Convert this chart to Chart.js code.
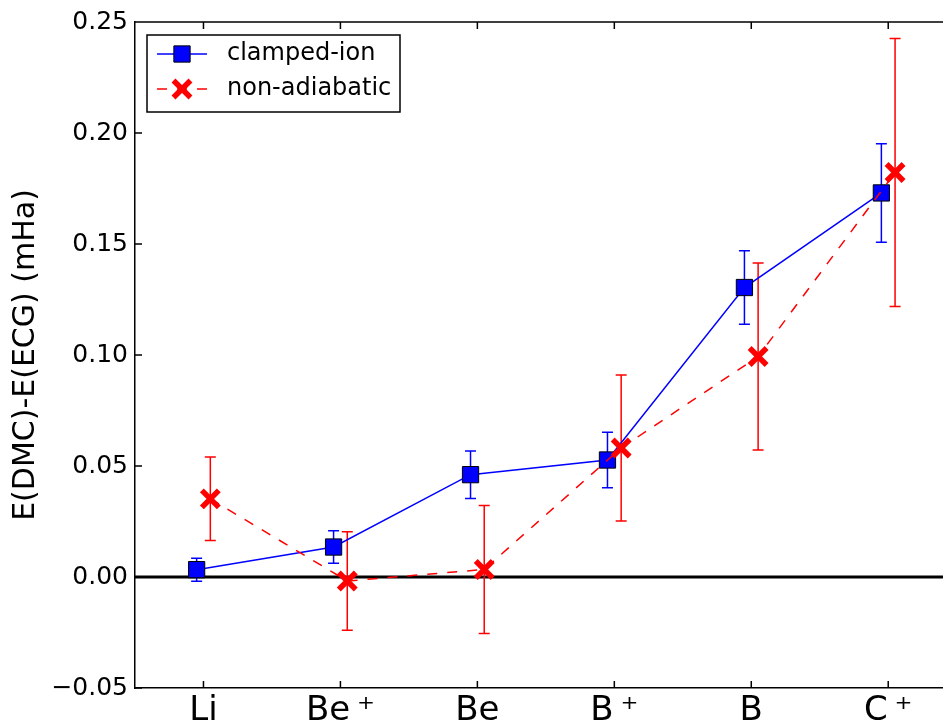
<!DOCTYPE html>
<html>
<head>
<meta charset="utf-8">
<title>DMC vs ECG energies</title>
<script src="https://cdn.jsdelivr.net/npm/chart.js@4.4.0/dist/chart.umd.min.js"></script>
<style>
  html, body { margin: 0; padding: 0; background: #fff; overflow: hidden; }
  canvas { display: block; }
</style>
</head>
<body>
<canvas id="energyChart" width="943" height="723"></canvas>
<script>
// energy differences in mHa, with one-sigma error bars
const systems = ['Li', 'Be\u2009\u207A', 'Be', 'B\u2009\u207A', 'B', 'C\u2009\u207A'];
const clampedIon = [0.0033, 0.0135, 0.0461, 0.0527, 0.1304, 0.1730];
const clampedIonErr = [0.0052, 0.0073, 0.0107, 0.0125, 0.0166, 0.0222];
const nonAdiabatic = [0.0352, -0.0018, 0.0034, 0.0581, 0.0993, 0.1822];
const nonAdiabaticErr = [0.0188, 0.0222, 0.0288, 0.0329, 0.0421, 0.0604];
const yTicks = [-0.05, 0.00, 0.05, 0.10, 0.15, 0.20, 0.25];

const FONT = 'DejaVu Sans';
const SHIFT = 0.05; // small sideways nudge so the two series don't overlap

function fmt(v) {
  const s = Math.abs(v).toFixed(2);
  return v < -1e-9 ? '\u2212' + s : s;
}

// zero reference line and error bars, under the series
const underlay = {
  id: 'underlay',
  beforeDatasetsDraw(chart) {
    const { ctx, chartArea, scales: { y } } = chart;
    ctx.save();
    const y0 = y.getPixelForValue(0);
    ctx.strokeStyle = '#000';
    ctx.lineWidth = 3;
    ctx.beginPath();
    ctx.moveTo(chartArea.left, y0);
    ctx.lineTo(chartArea.right, y0);
    ctx.stroke();

    chart.data.datasets.forEach((ds, di) => {
      const meta = chart.getDatasetMeta(di);
      ctx.strokeStyle = ds.borderColor;
      ctx.lineWidth = 1.5;
      ds.errors.forEach((e, i) => {
        const pt = meta.data[i];
        const v = ds.data[i].y;
        const top = y.getPixelForValue(v + e);
        const bot = y.getPixelForValue(v - e);
        ctx.beginPath();
        ctx.moveTo(pt.x, top);
        ctx.lineTo(pt.x, bot);
        ctx.moveTo(pt.x - 5.5, top);
        ctx.lineTo(pt.x + 5.5, top);
        ctx.moveTo(pt.x - 5.5, bot);
        ctx.lineTo(pt.x + 5.5, bot);
        ctx.stroke();
      });
    });
    ctx.restore();
  }
};

// top spine, inward tick marks and the boxed legend
const frame = {
  id: 'frame',
  afterDraw(chart) {
    const { ctx, chartArea: a, scales: { x, y } } = chart;
    ctx.save();
    ctx.strokeStyle = '#000';
    ctx.lineWidth = 1.5;
    ctx.beginPath();
    ctx.moveTo(a.left, a.top);
    ctx.lineTo(a.right, a.top);
    y.ticks.forEach(t => {
      const py = y.getPixelForValue(t.value);
      ctx.moveTo(a.left, py);
      ctx.lineTo(a.left + 7, py);
    });
    x.ticks.forEach(t => {
      const px = x.getPixelForValue(t.value);
      ctx.moveTo(px, a.bottom);
      ctx.lineTo(px, a.bottom - 7);
      ctx.moveTo(px, a.top);
      ctx.lineTo(px, a.top + 7);
    });
    ctx.stroke();

    const bx = a.left + 12, by = a.top + 13, bw = 253, bh = 77;
    ctx.fillStyle = '#fff';
    ctx.fillRect(bx, by, bw, bh);
    ctx.lineWidth = 1.5;
    ctx.strokeRect(bx, by, bw, bh);

    chart.data.datasets.forEach((ds, i) => {
      const cy = by + 19 + i * 35;
      const mx = bx + 35;
      ctx.save();
      ctx.strokeStyle = ds.borderColor;
      ctx.lineWidth = ds.borderWidth;
      ctx.setLineDash(ds.borderDash || []);
      ctx.beginPath();
      ctx.moveTo(bx + 10, cy);
      ctx.lineTo(bx + 60, cy);
      ctx.stroke();
      ctx.setLineDash([]);
      ctx.fillStyle = ds.pointBackgroundColor;
      ctx.strokeStyle = ds.pointBorderColor;
      ctx.lineWidth = ds.pointBorderWidth;
      Chart.helpers.drawPoint(ctx, {
        pointStyle: ds.pointStyle, radius: ds.pointRadius,
        rotation: 0, borderWidth: ds.pointBorderWidth
      }, mx, cy);
      ctx.restore();
      ctx.fillStyle = '#000';
      ctx.font = '24px "' + FONT + '"';
      ctx.textBaseline = 'middle';
      ctx.textAlign = 'left';
      ctx.fillText(ds.label, bx + 80, cy);
    });
    ctx.restore();
  }
};

new Chart(document.getElementById('energyChart'), {
  type: 'line',
  data: {
    datasets: [
      {
        label: 'clamped-ion',
        data: systems.map((_, i) => ({ x: i - SHIFT, y: clampedIon[i] })),
        errors: clampedIonErr,
        borderColor: '#0000ff',
        borderWidth: 1.5,
        pointStyle: 'rect',
        pointRadius: 11.5,
        pointBackgroundColor: '#0000ff',
        pointBorderColor: '#000',
        pointBorderWidth: 1,
        order: 2
      },
      {
        label: 'non-adiabatic',
        data: systems.map((_, i) => ({ x: i + SHIFT, y: nonAdiabatic[i] })),
        errors: nonAdiabaticErr,
        borderColor: '#ff0000',
        borderWidth: 1.5,
        borderDash: [10, 10],
        pointStyle: 'crossRot',
        pointRadius: 12,
        pointBackgroundColor: '#ff0000',
        pointBorderColor: '#ff0000',
        pointBorderWidth: 5.5,
        order: 1
      }
    ]
  },
  options: {
    responsive: false,
    animation: false,
    layout: { autoPadding: false, padding: { top: 22, left: 0, right: 0, bottom: 0 } },
    plugins: { legend: { display: false }, tooltip: { enabled: false } },
    elements: { line: { tension: 0, fill: false } },
    scales: {
      x: {
        type: 'linear',
        min: -0.5,
        max: 5.4,
        afterBuildTicks: s => { s.ticks = systems.map((_, i) => ({ value: i })); },
        afterFit: s => { s.height = 35; s.paddingLeft = 0; s.paddingRight = 0; },
        grid: { display: false, drawTicks: false },
        border: { display: true, color: '#000', width: 1.5 },
        ticks: {
          callback: v => systems[Math.round(v)],
          color: '#000',
          font: { family: FONT, size: 34 },
          padding: 3,
          maxRotation: 0,
          autoSkip: false
        }
      },
      y: {
        min: -0.05,
        max: 0.25,
        afterBuildTicks: s => { s.ticks = yTicks.map(v => ({ value: v })); },
        afterFit: s => { s.width = 135; s.paddingTop = 0; s.paddingBottom = 0; },
        grid: { display: false, drawTicks: false },
        border: { display: true, color: '#000', width: 1.5 },
        ticks: {
          callback: v => fmt(v),
          color: '#000',
          font: { family: FONT, size: 25 },
          padding: 7
        },
        title: {
          display: true,
          text: 'E(DMC)-E(ECG) (mHa)',
          color: '#000',
          font: { family: FONT, size: 30 },
          padding: { top: 8, bottom: 0 }
        }
      }
    }
  },
  plugins: [underlay, frame]
});
</script>
</body>
</html>
